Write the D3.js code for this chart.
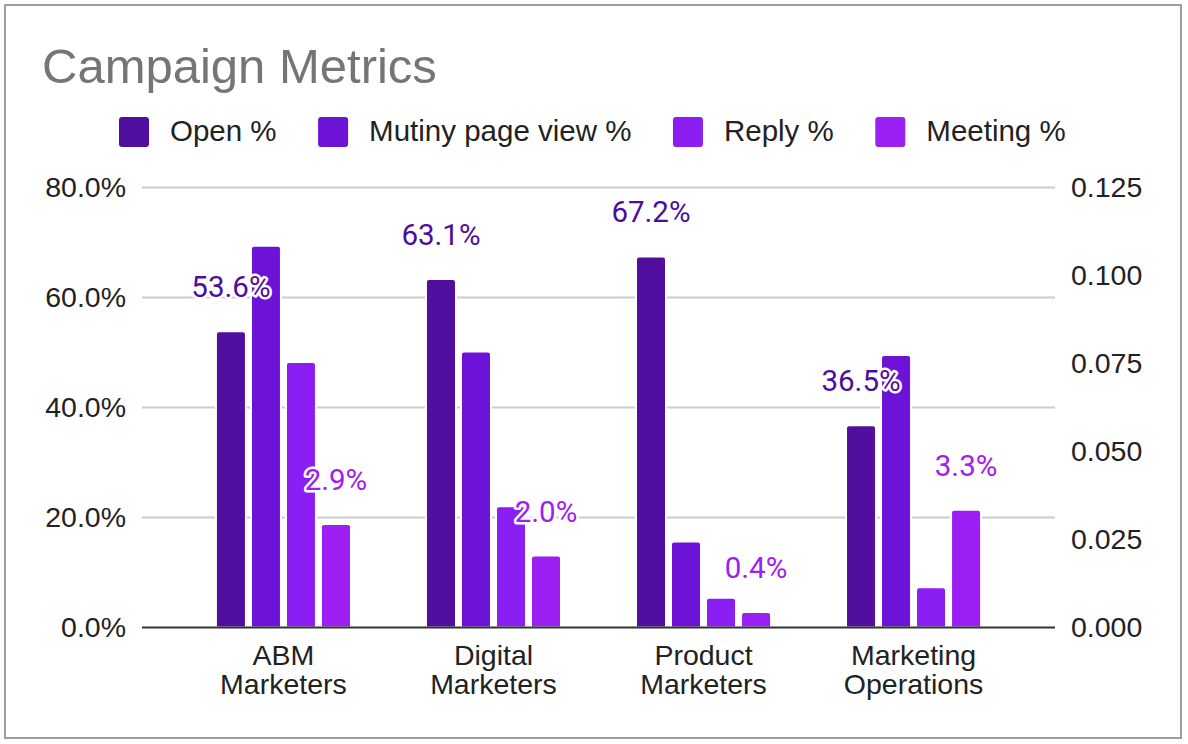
<!DOCTYPE html>
<html><head><meta charset="utf-8">
<script src="https://cdn.jsdelivr.net/npm/d3@7"></script>
<style>body{margin:0;background:#fff}svg{display:block}</style>
</head><body><svg id="c" width="1188" height="744"></svg>
<script>
const categories = ["ABM Marketers","Digital Marketers","Product Marketers","Marketing Operations"];
const categoryLines = [["ABM","Marketers"],["Digital","Marketers"],["Product","Marketers"],["Marketing","Operations"]];
const seriesNames = ["Open %","Mutiny page view %","Reply %","Meeting %"];
const openPct = [0.536,0.631,0.672,0.365];
const mutinyPct = [0.108,0.078,0.024,0.077];
const replyPct = [0.075,0.034,0.008,0.011];
const meetingPct = [0.029,0.020,0.004,0.033];
const leftTicks = [0,0.2,0.4,0.6,0.8];
const rightTicks = [0,0.025,0.05,0.075,0.1,0.125];
const seriesColors = ["#520e9f","#6d12d7","#8a1ef3","#9b1ef2"];
const titleText = "Campaign Metrics";

const svg = d3.select("#c");
const AX = '"Liberation Sans", Arial, sans-serif';
const plotL = 142, plotR = 1055, plotT = 187.5, plotB = 627.5;

// frame
svg.append("rect").attr("x",5).attr("y",5).attr("width",1176).attr("height",733)
  .attr("fill","#fff").attr("stroke","#9e9e9e").attr("stroke-width",2);

// title
svg.append("text").attr("x",42).attr("y",83).text(titleText)
  .attr("font-family",AX).attr("font-size",49).attr("fill","#757575");

// legend
let lx = 119;
seriesNames.forEach((n,i)=>{
  svg.append("rect").attr("x",lx).attr("y",117).attr("width",30).attr("height",30)
    .attr("rx",3).attr("fill",seriesColors[i]);
  const t = svg.append("text").attr("x",lx+51).attr("y",141).text(n)
    .attr("font-family",AX).attr("font-size",29.5).attr("fill","#222");
  lx = lx + 51 + t.node().getComputedTextLength() + 41.5;
});

const series = [
  {name:seriesNames[0], values:openPct, axis:"L", label:true},
  {name:seriesNames[1], values:mutinyPct, axis:"R", label:false},
  {name:seriesNames[2], values:replyPct, axis:"R", label:false},
  {name:seriesNames[3], values:meetingPct, axis:"R", label:true}
];

const x0 = d3.scaleBand().domain(categories).range([plotL,plotR]).paddingInner(0.357).paddingOuter(0.352);
const x1 = d3.scaleBand().domain(seriesNames).range([0,x0.bandwidth()]).paddingInner(0.143);
const yL = d3.scaleLinear().domain([0,0.8]).range([plotB,plotT]);
const yR = d3.scaleLinear().domain([0,0.125]).range([plotB,plotT]);

// gridlines
svg.append("g").selectAll("line").data(leftTicks.filter(d=>d>0)).join("line")
  .attr("x1",plotL).attr("x2",plotR).attr("y1",d=>yL(d)).attr("y2",d=>yL(d))
  .attr("stroke","#cccccc").attr("stroke-width",2);

// axes
const gl = svg.append("g").attr("transform",`translate(${plotL},0)`)
  .call(d3.axisLeft(yL).tickValues(leftTicks).tickFormat(d3.format(".1%")).tickSize(0).tickPadding(16));
const gr = svg.append("g").attr("transform",`translate(${plotR},0)`)
  .call(d3.axisRight(yR).tickValues(rightTicks).tickFormat(d3.format(".3f")).tickSize(0).tickPadding(16));
[gl,gr].forEach(g=>{
  g.select(".domain").remove();
  g.selectAll("text").attr("font-family",AX).attr("font-size",28.5).attr("fill","#222");
});

// bars (top extended slightly to compensate the white separating stroke)
function barPath(x,y,w,h,r){
  r = Math.min(r,h,w/2);
  return `M${x},${y+h}V${y+r}Q${x},${y} ${x+r},${y}H${x+w-r}Q${x+w},${y} ${x+w},${y+r}V${y+h}Z`;
}
const bars = svg.append("g");
series.forEach((s,si)=>{
  const ys = s.axis==="L"?yL:yR;
  bars.append("g").selectAll("path").data(s.values).join("path")
    .attr("d",(v,i)=>{
      const x = x0(categories[i]) + x1(s.name);
      const y = ys(v) - 1.5;
      return barPath(x,y,x1.bandwidth(),plotB-y,3);
    })
    .attr("fill",seriesColors[si]).attr("stroke","#fff").attr("stroke-width",2);
});

// baseline
svg.append("line").attr("x1",plotL).attr("x2",plotR).attr("y1",plotB).attr("y2",plotB)
  .attr("stroke","#333").attr("stroke-width",2);

// x labels
const xl = svg.append("g");
categories.forEach((c,i)=>{
  const cx = x0(c)+x0.bandwidth()/2;
  const t = xl.append("text").attr("text-anchor","middle")
    .attr("font-family",AX).attr("font-size",28.5).attr("fill","#222");
  categoryLines[i].forEach((ln,j)=>{
    t.append("tspan").attr("x",cx).attr("y",665+j*28.5).text(ln);
  });
});

// data labels
const fmt = d3.format(".1%");
series.filter(s=>s.label).forEach(s=>{
  const si = seriesNames.indexOf(s.name);
  const ys = s.axis==="L"?yL:yR;
  svg.append("g").selectAll("text").data(s.values).join("text")
    .attr("x",(v,i)=>x0(categories[i])+x1(s.name)+x1.bandwidth()/2)
    .attr("y",v=>ys(v)-35.5)
    .attr("text-anchor","middle")
    .attr("font-family","Roboto, sans-serif").attr("font-size",29.5)
    .attr("fill",si===0?"#4e0c9c":"#9d20f0")
    .attr("stroke","#fff").attr("stroke-width",5).attr("stroke-linejoin","round")
    .attr("paint-order","stroke")
    .text(v=>fmt(v));
});
</script></body></html>
